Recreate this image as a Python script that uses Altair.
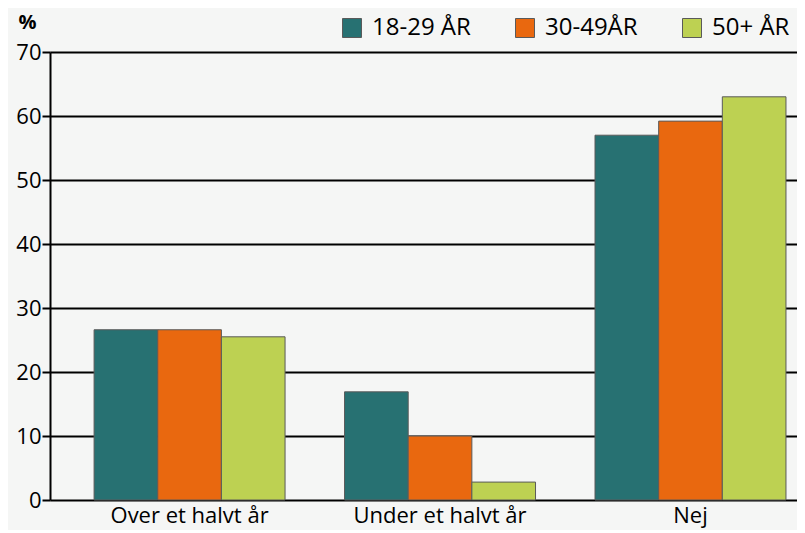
import altair as alt
import pandas as pd

categories = ["Over et halvt år", "Under et halvt år", "Nej"]
groups = ["18-29 ÅR", "30-49ÅR", "50+ ÅR"]
colors = ["#277172", "#e9680f", "#bdd152"]
v_18_29 = [26.6, 16.9, 57.0]
v_30_49 = [26.6, 10.0, 59.2]
v_50 = [25.5, 2.8, 63.0]

rows = []
for i, c in enumerate(categories):
    for g, vals in zip(groups, [v_18_29, v_30_49, v_50]):
        rows.append({"cat": c, "grp": g, "val": vals[i]})
df = pd.DataFrame(rows)

FONT = "Open Sans"

chart = alt.Chart(df).mark_bar(stroke="#5a5a5a", strokeWidth=1).encode(
    x=alt.X("cat:N", sort=categories, title=None,
            scale=alt.Scale(paddingInner=0.2375, paddingOuter=0.11, align=0.8),
            axis=alt.Axis(labelAngle=0, ticks=False, domain=False, grid=False,
                          labelFontSize=22, labelColor="black", labelFont=FONT,
                          labelPadding=5)),
    xOffset=alt.XOffset("grp:N", sort=groups),
    y=alt.Y("val:Q", scale=alt.Scale(domain=[0, 70]), title="%",
            axis=alt.Axis(values=[0, 10, 20, 30, 40, 50, 60, 70], grid=True,
                          gridColor="black", gridWidth=2, domainColor="black",
                          domainWidth=2, tickColor="black", tickWidth=2, tickSize=8,
                          labelFontSize=22, labelColor="black", labelFont=FONT,
                          labelPadding=1,
                          titleAngle=0, titleFontSize=20, titleFont=FONT,
                          titleFontWeight="bold", titleColor="black",
                          titleX=-23, titleY=-20, titleAlign="center")),
    fill=alt.Fill("grp:N", sort=groups,
                  scale=alt.Scale(domain=groups, range=colors),
                  legend=alt.Legend(title=None, orient="none", direction="horizontal",
                                    legendX=290, legendY=-36,
                                    symbolType="square", symbolSize=361,
                                    symbolStrokeColor="#5a5a5a", symbolStrokeWidth=1,
                                    symbolOpacity=1,
                                    labelFontSize=24, labelFont=FONT, labelColor="black",
                                    labelOffset=8, columnPadding=42, labelLimit=200)),
).properties(
    width=747, height=448, background="#f5f6f5",
    padding={"left": 42, "top": 44, "right": 0, "bottom": 30},
    autosize=alt.AutoSizeParams(type="none"),
).configure_view(stroke=None)

chart.save("out.html", embed_options={"renderer": "svg", "actions": False})
